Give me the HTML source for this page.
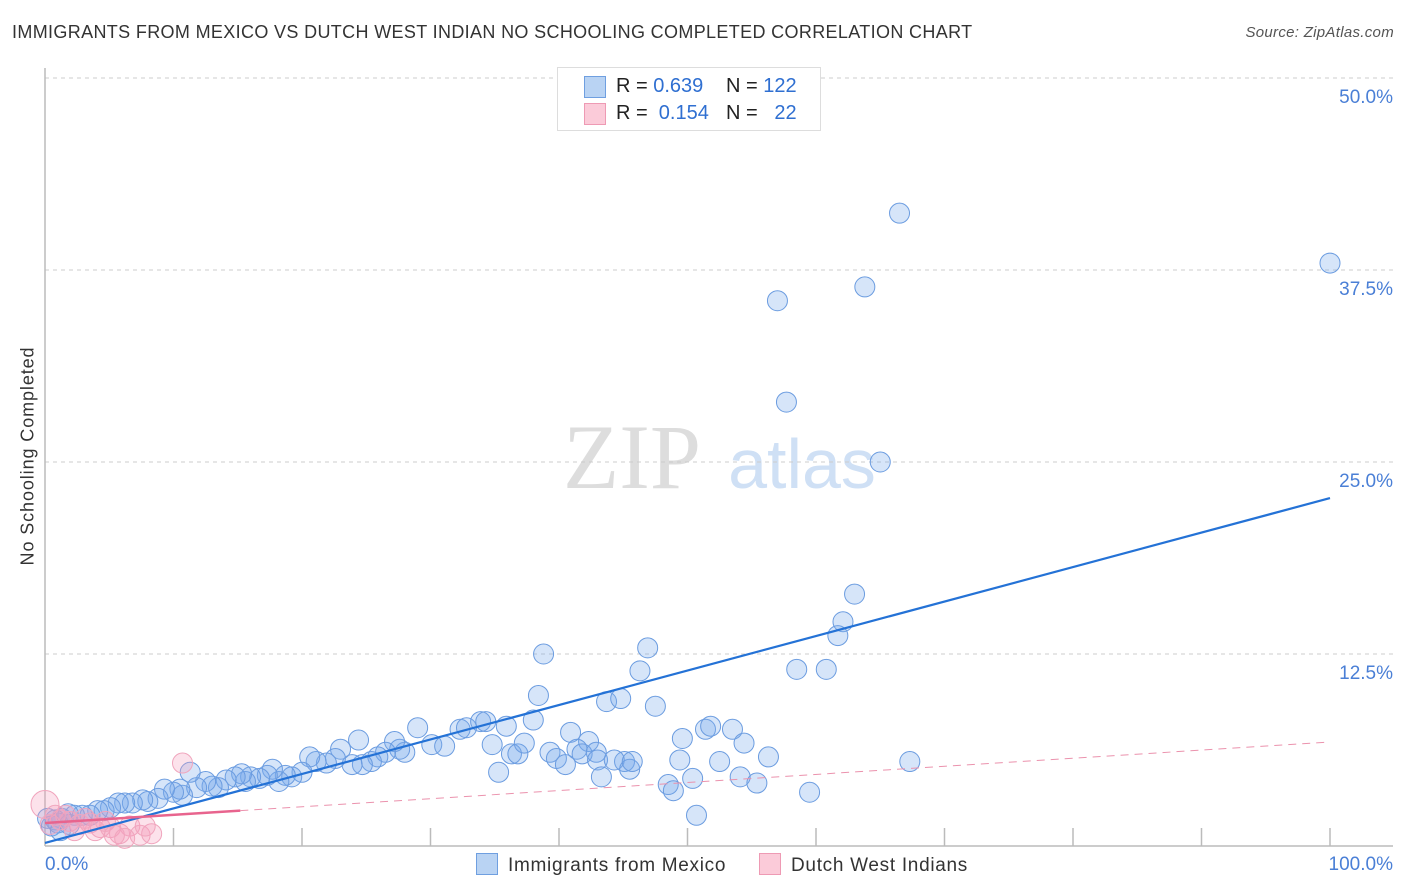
<!DOCTYPE html>
<html><head><meta charset="utf-8"><style>
body{margin:0;background:#fff;font-family:"Liberation Sans",sans-serif;}
#wrap{position:relative;width:1406px;height:892px;overflow:hidden;}
.t{position:absolute;white-space:nowrap;}
</style></head><body>
<div id="wrap">
<div class="t" style="left:12px;top:22px;font-size:18px;letter-spacing:0.35px;color:#333;">IMMIGRANTS FROM MEXICO VS DUTCH WEST INDIAN NO SCHOOLING COMPLETED CORRELATION CHART</div>
<div class="t" style="right:12px;top:24px;font-size:15px;letter-spacing:0.3px;color:#555;font-style:italic;">Source: ZipAtlas.com</div>
<div class="t" style="left:28px;top:456px;font-size:18px;letter-spacing:0.9px;color:#333;transform:translate(-50%,-50%) rotate(-90deg);">No Schooling Completed</div>
<svg id="svg" width="1406" height="892" style="position:absolute;left:0;top:0"></svg>
<div class="t" style="left:557px;top:67px;width:262px;height:62px;border:1px solid #ddd;background:#fff;font-size:20px;">
  <div style="position:absolute;left:26px;top:8px;width:20px;height:20px;background:#b9d3f3;border:1px solid #6f9fe0;"></div>
  <div class="t" style="left:58px;top:7px;color:#222">R = <span style="color:#2f6fd1">0.639</span></div>
  <div class="t" style="left:168px;top:7px;color:#222">N = <span style="color:#2f6fd1">122</span></div>
  <div style="position:absolute;left:26px;top:35px;width:20px;height:20px;background:#fbcbd9;border:1px solid #ee9ab4;"></div>
  <div class="t" style="left:58px;top:34px;color:#222">R = &nbsp;<span style="color:#2f6fd1">0.154</span></div>
  <div class="t" style="left:168px;top:34px;color:#222">N = &nbsp;&nbsp;<span style="color:#2f6fd1">22</span></div>
</div>
<div class="t" style="left:476px;top:853px;font-size:19px;letter-spacing:0.7px;color:#333;"><span style="display:inline-block;width:20px;height:20px;background:#b9d3f3;border:1px solid #6f9fe0;vertical-align:-4px;margin-right:10px;"></span>Immigrants from Mexico</div>
<div class="t" style="left:759px;top:853px;font-size:19px;letter-spacing:0.7px;color:#333;"><span style="display:inline-block;width:20px;height:20px;background:#fbcbd9;border:1px solid #ee9ab4;vertical-align:-4px;margin-right:10px;"></span>Dutch West Indians</div>
</div>
<script>
const blueX=[66.5,100,57.0,63.8,57.7,65.0,63.0,62.1,61.7,58.5,60.8,38.8,46.9,46.3,38.4,43.7,44.8,47.5,29.0,30.1,32.3,32.8,33.9,34.3,35.9,38.0,40.9,42.3,45.1,49.6,51.4,51.8,53.5,54.4,56.3,67.3,34.8,36.3,36.8,37.3,39.3,39.8,40.5,41.4,41.8,42.9,43.0,43.3,44.3,45.5,45.7,48.5,48.9,49.4,50.4,50.7,52.5,54.1,55.4,59.5,35.3,31.1,28.0,27.6,27.2,26.5,25.9,25.4,24.7,23.9,24.4,23.0,22.6,21.9,21.1,20.6,20.0,19.2,18.7,18.2,17.7,17.3,16.7,16.0,15.6,15.3,14.8,14.1,13.5,13.0,12.5,11.8,11.3,10.7,10.5,10.0,9.3,8.8,8.0,7.6,6.8,6.2,5.7,5.1,4.6,4.1,3.5,2.9,2.3,1.8,1.3,0.8,0.5,1.0,0.2,1.2,1.9];
const blueY=[41.2,37.95,35.5,36.4,28.9,25.0,16.4,14.6,13.7,11.5,11.5,12.5,12.9,11.4,9.8,9.4,9.6,9.1,7.7,6.6,7.6,7.7,8.1,8.1,7.8,8.2,7.4,6.8,5.5,7.0,7.6,7.8,7.6,6.7,5.8,5.5,6.6,6.0,6.0,6.7,6.1,5.7,5.3,6.3,6.0,6.1,5.6,4.5,5.6,5.0,5.5,4.0,3.6,5.6,4.4,2.0,5.5,4.5,4.1,3.5,4.8,6.5,6.1,6.3,6.8,6.1,5.8,5.5,5.3,5.3,6.9,6.3,5.7,5.4,5.5,5.8,4.8,4.5,4.6,4.2,5.0,4.6,4.4,4.5,4.2,4.7,4.5,4.3,3.8,3.9,4.2,3.8,4.8,3.3,3.7,3.5,3.7,3.1,2.9,3.0,2.8,2.8,2.8,2.5,2.3,2.3,2.0,2.0,2.0,2.1,1.8,1.7,1.3,1.5,1.8,1.0,1.4];
const pinkX=[0,10.7,1.2,1.9,2.7,3.5,4.3,5.1,5.8,6.6,7.4,8.3,7.8,0.8,1.6,2.3,3.9,4.7,5.4,0.4,3.1,6.2];
const pinkY=[2.7,5.4,1.7,1.6,1.4,1.5,1.2,1.2,0.8,1.3,0.7,0.8,1.3,2.0,2.0,1.0,1.0,1.6,0.7,1.4,1.8,0.5];
const yTicks=[12.5,25.0,37.5,50.0];
const yTickLabels=["12.5%","25.0%","37.5%","50.0%"];
const xTicks=[10,20,30,40,50,60,70,80,90,100];
const blueTrend=[0.2,22.65];
const pinkTrend=[1.5,6.77];

const NS="http://www.w3.org/2000/svg";
const svg=document.getElementById('svg');
const X=v=>45+v*12.85, Y=v=>846-v*15.36;
function mk(t,a){const e=document.createElementNS(NS,t);for(const k in a)e.setAttribute(k,a[k]);svg.appendChild(e);return e;}
let w=mk('text',{x:632,y:488,'font-size':92,'font-family':'Liberation Serif,serif',fill:'#ddd','text-anchor':'middle'});w.textContent='ZIP';


w=mk('text',{x:802,y:488,'font-size':70,'font-family':'Liberation Sans,sans-serif',fill:'#cfe0f5','text-anchor':'middle'});w.textContent='atlas';


yTicks.forEach((t,i)=>{
 const g=mk('line',{x1:45,x2:1393,y1:Y(t),y2:Y(t),stroke:'#ccc','stroke-dasharray':'4,4'});
 
 
 const l=mk('text',{x:1393,y:Y(t)+25,'font-size':19,fill:'#4a7fd6','text-anchor':'end'});l.textContent=yTickLabels[i];
 
 
});
mk('line',{x1:45,x2:45,y1:68,y2:846,stroke:'#bbb','stroke-width':1.5});
mk('line',{x1:45,x2:1393,y1:846,y2:846,stroke:'#bbb','stroke-width':1.5});
xTicks.forEach(t=>{const e=mk('line',{x1:X(t),x2:X(t),y1:828,y2:846,stroke:'#bbb','stroke-width':1.5});
 
 });
let xl=mk('text',{x:45,y:870,'font-size':19,fill:'#4a7fd6'});xl.textContent='0.0%';


xl=mk('text',{x:1393,y:870,'font-size':19,fill:'#4a7fd6','text-anchor':'end'});xl.textContent='100.0%';


blueX.forEach((x,i)=>{const c=mk('circle',{cx:X(x),cy:Y(blueY[i]),r:10,fill:'rgba(120,170,235,0.3)',stroke:'#6b9ce0','stroke-width':1});
 
 });
pinkX.forEach((x,i)=>{const c=mk('circle',{cx:X(x),cy:Y(pinkY[i]),r:i==0?14:10,fill:'rgba(245,160,190,0.3)',stroke:'#f0a5bd','stroke-width':1});
 
 });
let tl=mk('line',{x1:X(0),y1:Y(blueTrend[0]),x2:X(100),y2:Y(blueTrend[1]),stroke:'#2472d6','stroke-width':2.2});


const pAt=v=>pinkTrend[0]+(pinkTrend[1]-pinkTrend[0])*v/100;
tl=mk('line',{x1:X(0),y1:Y(pAt(0)),x2:X(15.2),y2:Y(pAt(15.2)),stroke:'#e8648e','stroke-width':2.5});


tl=mk('line',{x1:X(15.2),y1:Y(pAt(15.2)),x2:X(100),y2:Y(pAt(100)),stroke:'#eb92ad','stroke-width':1,'stroke-dasharray':'8,6'});


</script>
</body></html>
